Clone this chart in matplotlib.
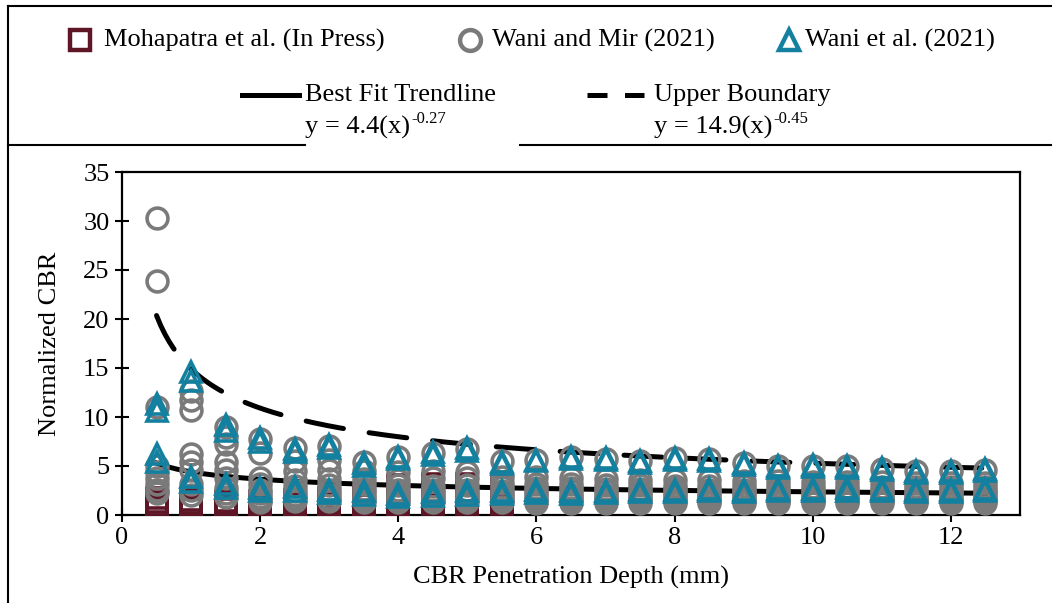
import matplotlib
matplotlib.use('Agg')
import matplotlib.pyplot as plt
from matplotlib.lines import Line2D
import numpy as np

plt.rcParams['font.family'] = ['Liberation Serif', 'DejaVu Serif']

# penetration depths (mm)
depth = [0.5, 1.0, 1.5, 2.0, 2.5, 3.0, 3.5, 4.0, 4.5, 5.0, 5.5, 6.0, 6.5,
         7.0, 7.5, 8.0, 8.5, 9.0, 9.5, 10.0, 10.5, 11.0, 11.5, 12.0, 12.5]

# Mohapatra et al. (In Press) - only up to 5.5 mm
moh_depth = depth[:11]
moh_1 = [1.7, 1.5, 1.4, 1.4, 1.5, 1.7, 2.0, 3.1, 3.2, 3.2, 3.0]
moh_2 = [1.3, 1.2, 1.2, 1.2, 1.3, 1.4, 1.4, 1.5, 1.5, 1.5, 1.5]
moh_3 = [1.0, 1.0, 0.9, 1.0, 1.1, 1.2, 1.2, 1.3, 1.3, 1.3, 1.3]
moh_4 = [0.8, 0.8, 0.7, 0.8, 1.0, 1.1, 1.1, 1.1, 1.2, 1.2, 1.2]
moh_5 = [0.6, 0.6, 0.6, 0.7, 0.9, 1.0, 1.0, 1.0, 1.1, 1.1, 1.1]

# Wani and Mir (2021)
mir_1 = [30.3, 12.7, 9.0, 7.8, 6.8, 7.0, 5.4, 5.9, 6.3, 6.7, 5.5, 5.6, 5.9,
         5.7, 5.5, 5.8, 5.7, 5.3, 5.0, 5.0, 5.0, 4.7, 4.5, 4.5, 4.6]
mir_2 = [23.9, 11.7, 8.0, 6.3, 5.5, 5.6, 4.5, 4.4, 4.5, 4.4, 3.9, 3.9, 3.8,
         3.7, 3.6, 3.6, 3.6, 3.5, 3.5, 3.4, 3.4, 3.4, 3.3, 3.3, 3.3]
mir_3 = [11.0, 10.7, 7.2, 3.8, 4.5, 4.6, 3.7, 3.6, 3.8, 3.8, 3.3, 3.2, 3.2,
         3.1, 3.1, 3.0, 3.0, 3.0, 3.0, 2.9, 2.9, 2.9, 2.9, 2.9, 2.9]
mir_4 = [5.0, 6.2, 5.4, 3.2, 3.6, 3.7, 3.2, 3.1, 3.0, 3.1, 2.9, 2.8, 2.8,
         2.7, 2.7, 2.7, 2.6, 2.6, 2.6, 2.6, 2.6, 2.5, 2.5, 2.5, 2.5]
mir_5 = [4.4, 5.4, 4.6, 2.6, 3.0, 3.1, 2.7, 2.6, 2.6, 2.6, 2.5, 2.4, 2.4,
         2.4, 2.3, 2.3, 2.3, 2.3, 2.2, 2.2, 2.2, 2.2, 2.2, 2.2, 2.2]
mir_6 = [3.8, 4.6, 3.8, 2.2, 2.5, 2.6, 2.3, 2.2, 2.2, 2.2, 2.1, 2.1, 2.0,
         2.0, 2.0, 2.0, 2.0, 2.0, 1.9, 1.9, 1.9, 1.9, 1.9, 1.9, 1.9]
mir_7 = [3.2, 3.2, 2.8, 1.8, 2.0, 2.1, 1.9, 1.9, 1.9, 1.9, 1.8, 1.8, 1.7,
         1.7, 1.7, 1.7, 1.7, 1.7, 1.7, 1.6, 1.6, 1.6, 1.6, 1.6, 1.6]
mir_8 = [2.6, 2.6, 2.2, 1.5, 1.7, 1.7, 1.6, 1.6, 1.6, 1.6, 1.5, 1.5, 1.5,
         1.5, 1.5, 1.4, 1.4, 1.4, 1.4, 1.4, 1.4, 1.4, 1.4, 1.4, 1.4]
mir_9 = [2.2, 2.0, 1.8, 1.3, 1.4, 1.4, 1.3, 1.3, 1.3, 1.3, 1.3, 1.2, 1.2,
         1.2, 1.2, 1.2, 1.2, 1.2, 1.2, 1.2, 1.2, 1.2, 1.2, 1.2, 1.2]

# Wani et al. (2021)
wani_a = [11.3, 14.6, 9.2, 7.9, 6.7, 7.1, 5.3, 5.9, 6.4, 6.8, 5.4, 5.6, 5.9,
          5.8, 5.5, 5.8, 5.7, 5.3, 5.0, 5.1, 5.0, 4.8, 4.5, 4.5, 4.7]
wani_b = [10.6, 13.7, 8.6, 7.5, 6.4, 6.8, 5.0, 5.7, 6.1, 6.5, 5.2, 5.5, 5.7,
          5.6, 5.3, 5.6, 5.5, 5.1, 4.8, 4.9, 4.8, 4.6, 4.3, 4.3, 4.5]
wani_c = [6.2, 3.9, 3.2, 2.8, 2.9, 2.6, 2.4, 2.1, 2.3, 2.4, 2.4, 2.6, 2.5,
          2.5, 2.6, 2.6, 2.7, 2.6, 2.7, 2.7, 2.8, 2.7, 2.6, 2.6, 2.7]
wani_d = [5.4, 3.4, 2.8, 2.4, 2.5, 2.2, 2.0, 1.8, 1.9, 2.0, 2.1, 2.2, 2.1,
          2.2, 2.3, 2.3, 2.4, 2.3, 2.4, 2.4, 2.5, 2.4, 2.3, 2.3, 2.4]

# trendline coefficients from the legend: y = a * x^b
fit_a, fit_b = 4.4, -0.27
upper_a, upper_b = 14.9, -0.45

moh_color = '#5E1627'
mir_color = '#7A7A7A'
wani_color = '#13809F'

W, H = 1052, 603
fig = plt.figure(figsize=(W / 100, H / 100), dpi=100)
fig.patch.set_facecolor('white')
ax = fig.add_axes([122 / W, 88 / H, 898 / W, 343 / H])

ms = 15
mew = 2.6

x_curve = np.linspace(depth[0], depth[-1], 200)
ax.plot(x_curve, fit_a * x_curve ** fit_b, color='black', lw=3.6, zorder=2)
ax.plot(x_curve, upper_a * x_curve ** upper_b, color='black', lw=3.6,
        dashes=(7.6, 5.2), dash_capstyle='round', zorder=2)

for s in [moh_1, moh_2, moh_3, moh_4, moh_5]:
    ax.plot(moh_depth, s, ls='none', marker='s', ms=ms, mfc='none',
            mec=moh_color, mew=mew, zorder=3)
for s in [mir_1, mir_2, mir_3, mir_4, mir_5, mir_6, mir_7, mir_8, mir_9]:
    ax.plot(depth, s, ls='none', marker='o', ms=ms, mfc='none',
            mec=mir_color, mew=mew, zorder=4)
for s in [wani_a, wani_b, wani_c, wani_d]:
    ax.plot(depth, s, ls='none', marker='^', ms=ms, mfc='none',
            mec=wani_color, mew=mew, zorder=5)

fs = 19
ax.set_xlim(0, 13)
ax.set_ylim(0, 35)
ax.set_xticks([0, 2, 4, 6, 8, 10, 12])
ax.set_yticks([0, 5, 10, 15, 20, 25, 30, 35])
ax.tick_params(direction='inout', length=10, width=1.5, labelsize=fs, pad=4)
for sp in ax.spines.values():
    sp.set_linewidth(1.6)
ax.set_xlabel('CBR Penetration Depth (mm)', fontsize=fs, labelpad=12)
ax.set_ylabel('Normalized CBR', fontsize=fs, labelpad=16)


def fx(px):
    return px / W


def fy(py):
    return 1 - py / H


def fig_line(xs, ys, **kw):
    fig.add_artist(Line2D([fx(v) for v in xs], [fy(v) for v in ys],
                          transform=fig.transFigure, **kw))


# outer frame and separator
fig_line([8, 8], [6, 603], color='black', lw=1.5)
fig_line([8, 1052], [6, 6], color='black', lw=1.5)
fig_line([8, 305], [145, 145], color='black', lw=1.5)
fig_line([520, 1052], [145, 145], color='black', lw=1.5)

# legend
fig_line([80], [40], ls='none', marker='s', ms=ms, mfc='none',
         mec=moh_color, mew=3.2)
fig.text(fx(104), fy(40), 'Mohapatra et al. (In Press)', fontsize=fs,
         va='center', ha='left')
fig_line([470], [40], ls='none', marker='o', ms=ms, mfc='none',
         mec=mir_color, mew=3.2)
fig.text(fx(492), fy(40), 'Wani and Mir (2021)', fontsize=fs,
         va='center', ha='left')
fig_line([789], [40], ls='none', marker='^', ms=ms, mfc='none',
         mec=wani_color, mew=3.2)
fig.text(fx(805), fy(40), 'Wani et al. (2021)', fontsize=fs,
         va='center', ha='left')

fig_line([242, 299], [95, 95], color='black', lw=3.6)
fig.text(fx(305), fy(95), 'Best Fit Trendline', fontsize=fs,
         va='center', ha='left')
fig_line([587, 644], [95, 95], color='black', lw=3.6, dashes=(4.0, 3.5))
fig.text(fx(654), fy(95), 'Upper Boundary', fontsize=fs,
         va='center', ha='left')

renderer = fig.canvas.get_renderer()
for x0, base, sup in [(305, 'y = 4.4(x)', '-0.27'),
                      (654, 'y = 14.9(x)', '-0.45')]:
    t = fig.text(fx(x0), fy(127), base, fontsize=fs, va='center', ha='left')
    x_end = t.get_window_extent(renderer).x1
    fig.text(x_end / W + 0.001, fy(119), sup, fontsize=12,
             va='center', ha='left')

fig.savefig('out.png', dpi=100, facecolor='white')
